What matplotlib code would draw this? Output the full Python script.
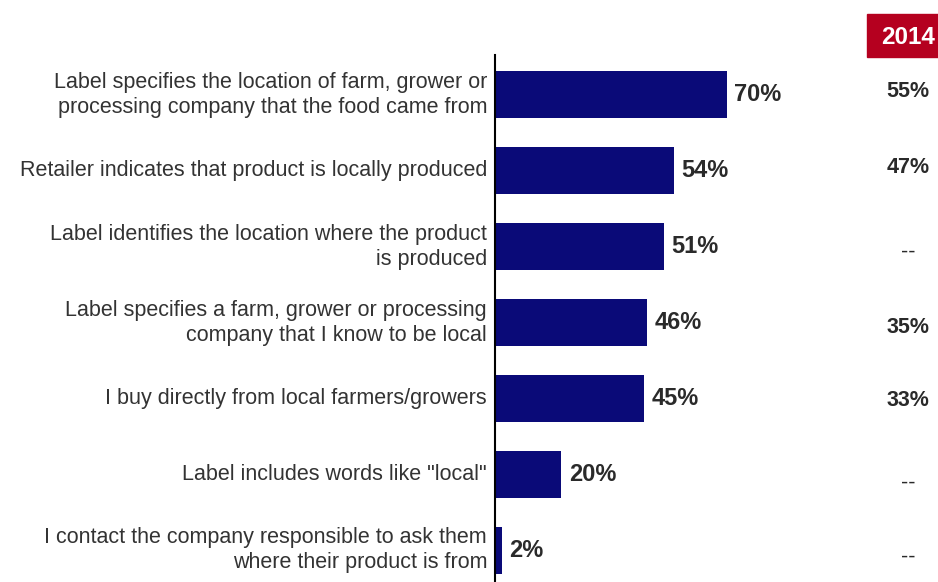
import matplotlib

matplotlib.use("Agg")
import matplotlib.pyplot as plt
from matplotlib.patches import Rectangle
from matplotlib.transforms import blended_transform_factory

plt.rcParams["font.family"] = ["Liberation Sans", "DejaVu Sans"]

W, H = 938, 582

LABELS = [
    "Label specifies the location of farm, grower or\nprocessing company that the food came from",
    "Retailer indicates that product is locally produced",
    "Label identifies the location where the product\nis produced",
    "Label specifies a farm, grower or processing\ncompany that I know to be local",
    "I buy directly from local farmers/growers",
    'Label includes words like "local"',
    "I contact the company responsible to ask them\nwhere their product is from",
]
VALUES = [70, 54, 51, 46, 45, 20, 2]
PRIOR_YEAR = "2014"
PRIOR = ["55%", "47%", "--", "35%", "33%", "--", "--"]

# small vertical nudges (in bar units) for the 2014 column text
PRIOR_DY = [-0.04, -0.04, 0.07, 0.06, 0.03, 0.12, 0.09]

BAR = "#0a0a78"
TXT = "#2a2a2a"

fig = plt.figure(figsize=(W / 100, H / 100), dpi=100)
fig.patch.set_facecolor("white")

left, right, top = 495, 826, 55
ax = fig.add_axes([left / W, 0, (right - left) / W, (H - top) / H])

y = list(range(len(VALUES)))
ax.barh(y, VALUES, height=0.62, color=BAR)
ax.set_xlim(0, 100)
ax.set_ylim(6.42, -0.526)

for s in ["top", "right", "bottom"]:
    ax.spines[s].set_visible(False)
ax.spines["left"].set_color("black")
ax.spines["left"].set_linewidth(1.5)
ax.set_xticks([])
ax.set_yticks([])

for yi, v in zip(y, VALUES):
    ax.text(v + 2.3, yi, f"{v}%", va="center", ha="left",
            fontsize=17, fontweight="bold", color=TXT)

for yi, lab in zip(y, LABELS):
    ax.text(-2.4, yi, lab, va="center", ha="right", fontsize=15.5,
            color="#333333", linespacing=1.25)

# 2014 comparison column
tr = blended_transform_factory(fig.transFigure, ax.transData)
for yi, p, dy in zip(y, PRIOR, PRIOR_DY):
    weight = "normal" if p == "--" else "bold"
    ax.text(908 / W, yi + dy, p, transform=tr, ha="center", va="center",
            fontsize=15.5, fontweight=weight, color=TXT)

fig.patches.append(Rectangle((867 / W, 1 - 57 / H), (W - 867) / W, 43 / H,
                             transform=fig.transFigure, color="#b5001f",
                             zorder=0))
fig.text(881 / W, 1 - 37 / H, PRIOR_YEAR, ha="left", va="center",
         fontsize=17.5, fontweight="bold", color="white")

fig.savefig("out.png", dpi=100)
